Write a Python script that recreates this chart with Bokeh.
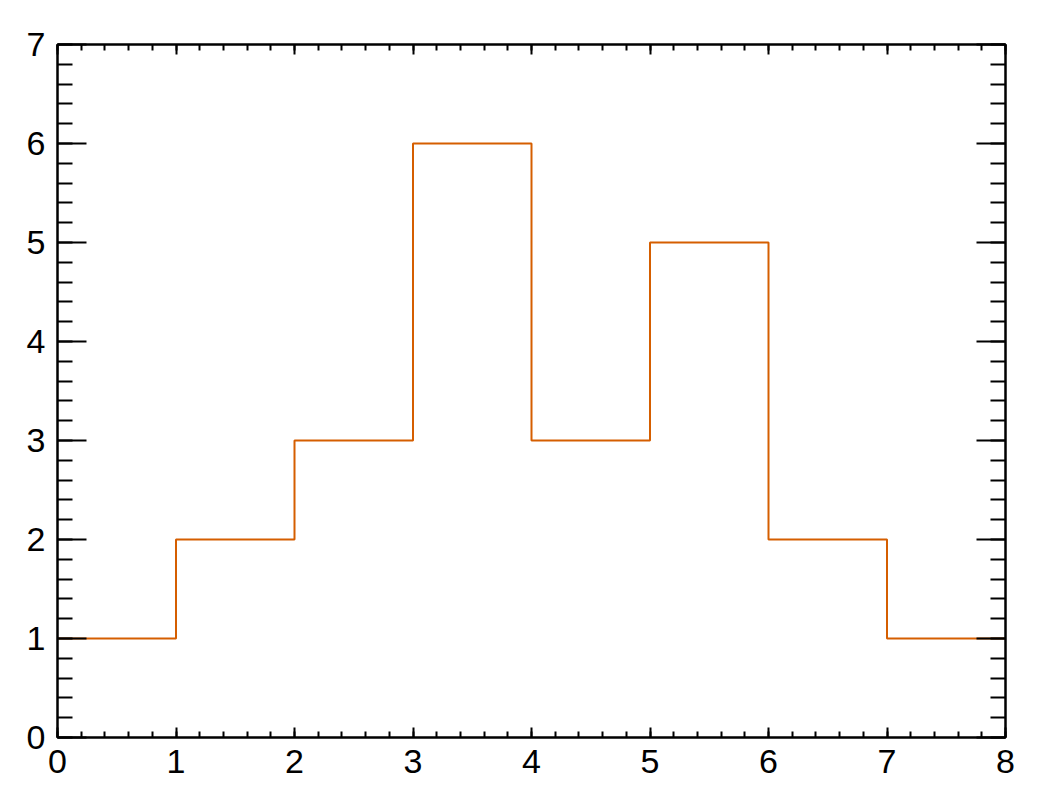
from bokeh.plotting import figure
from bokeh.models import LinearAxis, SingleIntervalTicker, Range1d
from bokeh.embed import file_html
from bokeh.resources import INLINE

bin_edges = [0, 1, 2, 3, 4, 5, 6, 7, 8]
counts = [1, 2, 3, 6, 3, 5, 2, 1]

p = figure(width=1037, height=801, output_backend="svg", toolbar_location=None,
           x_range=Range1d(0, 8), y_range=Range1d(0, 7),
           x_axis_location=None, y_axis_location=None,
           min_border_left=57, min_border_right=32, min_border_top=44, min_border_bottom=64)
p.grid.visible = False
p.outline_line_color = "black"
p.outline_line_width = 2
p.background_fill_color = "white"
p.border_fill_color = "white"

xs = bin_edges
ys = counts + [counts[-1]]
p.step(xs, ys, mode="after", line_color="#D55E00", line_width=2)

def make_axis(labels, major_in, minor_in, standoff):
    ax = LinearAxis(ticker=SingleIntervalTicker(interval=1, num_minor_ticks=5))
    ax.axis_line_color = "black"
    ax.axis_line_width = 2
    ax.major_tick_in = major_in
    ax.major_tick_out = 0
    ax.minor_tick_in = minor_in
    ax.minor_tick_out = 0
    ax.major_tick_line_color = "black"
    ax.major_tick_line_width = 2
    ax.minor_tick_line_color = "black"
    ax.minor_tick_line_width = 2
    ax.major_label_text_font = "Liberation Sans"
    ax.major_label_text_font_size = "34px"
    ax.major_label_text_color = "black"
    ax.major_label_standoff = standoff
    if not labels:
        ax.major_label_text_font_size = "0px"
        ax.major_label_text_alpha = 0
    return ax

p.add_layout(make_axis(True, 29, 15, 12), "left")
p.add_layout(make_axis(False, 29, 15, 0), "right")
p.add_layout(make_axis(True, 10, 6, 12), "below")
p.add_layout(make_axis(False, 10, 6, 0), "above")

open("out.html", "w").write(file_html(p, INLINE))
